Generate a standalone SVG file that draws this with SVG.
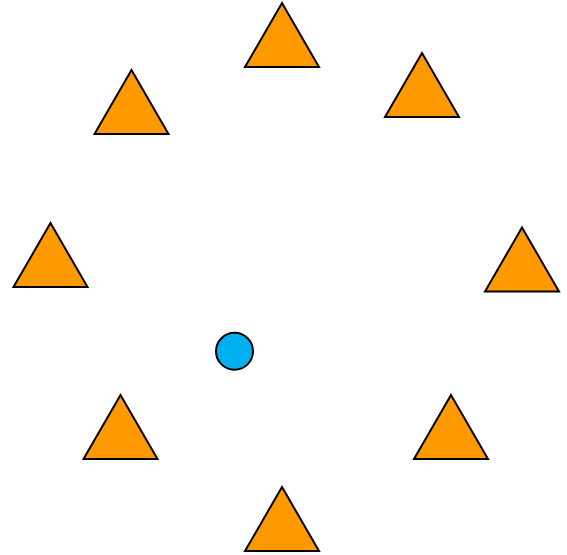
<svg xmlns="http://www.w3.org/2000/svg" xmlns:xlink="http://www.w3.org/1999/xlink" width="567" height="555" viewBox="0 0 567 555">
  <style>
    .tri { fill: #FF9900; stroke: #000000; stroke-width: 2; stroke-linejoin: miter; }
    .dot { fill: #00B0F0; stroke: #000000; stroke-width: 2; }
  </style>
  <defs>
    <path id="triangle" class="tri" d="M0,0 L37,64 L-37,64 Z"/>
  </defs>
  <rect width="567" height="555" fill="#ffffff"/>
  <g id="tri-top"><use xlink:href="#triangle" href="#triangle" transform="translate(282,3)"/></g>
  <g id="tri-top-right"><use xlink:href="#triangle" href="#triangle" transform="translate(422,53)"/></g>
  <g id="tri-top-left"><use xlink:href="#triangle" href="#triangle" transform="translate(131.5,70)"/></g>
  <g id="tri-left"><use xlink:href="#triangle" href="#triangle" transform="translate(50.5,223)"/></g>
  <g id="tri-right"><use xlink:href="#triangle" href="#triangle" transform="translate(522,227.5)"/></g>
  <g id="tri-bottom-left"><use xlink:href="#triangle" href="#triangle" transform="translate(120.5,395)"/></g>
  <g id="tri-bottom-right"><use xlink:href="#triangle" href="#triangle" transform="translate(451,395)"/></g>
  <g id="tri-bottom"><use xlink:href="#triangle" href="#triangle" transform="translate(282,487)"/></g>
  <g id="center-dot"><circle class="dot" cx="234.5" cy="351.3" r="18.5"/></g>
  <g id="connectors"></g>
</svg>
